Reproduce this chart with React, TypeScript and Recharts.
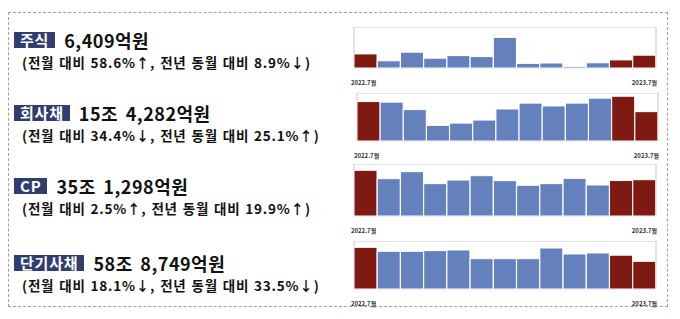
import { BarChart, Bar, XAxis, YAxis, Cell, ReferenceArea } from 'recharts'

const months = [
  '2022.7', '2022.8', '2022.9', '2022.10', '2022.11', '2022.12', '2023.1',
  '2023.2', '2023.3', '2023.4', '2023.5', '2023.6', '2023.7',
]

// 주식 (억원)
const stockValues = [7035, 3600, 7900, 4900, 6200, 5700, 15300, 2300, 2500, 800, 2600, 4041, 6409]
// 회사채 (조원)
const bondValues = [20.7, 20.4, 16.5, 8.2, 9.4, 11.0, 16.8, 19.9, 18.4, 19.9, 22.5, 23.5, 15.4]
// CP (조원)
const cpValues = [44.2, 36.1, 42.9, 31.3, 34.8, 39.0, 34.2, 29.7, 31.3, 36.4, 30.0, 34.3, 35.1]
// 단기사채 (조원)
const shortValues = [88.7, 80.2, 80.2, 81.6, 83.0, 64.5, 64.5, 64.5, 87.2, 74.5, 76.6, 71.9, 58.9]

const highlighted = [0, 11, 12]

const RED = '#7e1a12'
const BLUE = '#6581bd'
const NAVY = '#2f3e6e'
const FONT = '"Noto Sans CJK KR", "Noto Sans", sans-serif'

type MiniProps = {
  values: number[]
  max: number
  left: number
  top: number
  width: number
  height: number
}

function MiniBars({ values, max, left, top, width, height }: MiniProps) {
  const data = months.map((m, i) => ({ month: m, value: values[i] }))
  const half = width / months.length / 2
  const first = months[0]
  const last = months[months.length - 1]

  const renderTick = (props: any) => {
    const { x, y, payload } = props
    const isFirst = payload.value === first
    return (
      <text
        x={isFirst ? x - half - 3 : x + half + 1}
        y={y}
        dy={9}
        textAnchor={isFirst ? 'start' : 'end'}
        fontSize={6}
        fontWeight={700}
        fill="#333"
        fontFamily={FONT}
      >
        {payload.value}월
      </text>
    )
  }

  return (
    <div style={{ position: 'absolute', left: left - 4, top }}>
      <BarChart
        width={width + 8}
        height={height + 20}
        data={data}
        barCategoryGap={0}
        margin={{ top: 0, right: 4, left: 4, bottom: 0 }}
      >
        <XAxis
          dataKey="month"
          ticks={[first, last]}
          interval={0}
          axisLine={false}
          tickLine={false}
          height={20}
          tick={renderTick}
        />
        <YAxis hide domain={[0, max]} />
        <ReferenceArea x1={first} x2={last} y1={0} y2={max} fill="none" stroke="#c8c8c8" strokeWidth={1} />
        <Bar dataKey="value" isAnimationActive={false} stroke="#ffffff" strokeWidth={1}>
          {data.map((_, i) => (
            <Cell key={i} fill={highlighted.includes(i) ? RED : BLUE} />
          ))}
        </Bar>
      </BarChart>
    </div>
  )
}

type LabelProps = {
  top: number
  tag: string
  amount: string
  change: string
}

function Label({ top, tag, amount, change }: LabelProps) {
  return (
    <div style={{ position: 'absolute', left: 14, top, fontFamily: FONT, color: '#111' }}>
      <div style={{ display: 'flex', alignItems: 'center', height: 16 }}>
        <span
          style={{
            display: 'inline-block',
            background: NAVY,
            color: '#fff',
            fontSize: 15,
            fontWeight: 700,
            lineHeight: '16px',
            height: 16,
            padding: '0 6px',
            letterSpacing: 0.8,
          }}
        >
          {tag}
        </span>
        <span style={{ fontSize: 18, fontWeight: 700, marginLeft: 9, lineHeight: '16px', letterSpacing: 0.5, wordSpacing: 3 }}>
          {amount}
        </span>
      </div>
      <div
        style={{
          fontSize: 13.5,
          fontWeight: 700,
          marginTop: 4,
          marginLeft: 8,
          whiteSpace: 'nowrap',
          letterSpacing: 0.8,
          wordSpacing: 1,
        }}
      >
        {change}
      </div>
    </div>
  )
}

export default function App() {
  return (
    <div style={{ position: 'absolute', left: 0, top: 0, width: 680, height: 319, background: '#fff' }}>
      <div
        style={{
          position: 'absolute',
          left: 8,
          top: 12,
          width: 660,
          height: 295,
          border: '1px dashed #a0a0a0',
          boxSizing: 'border-box',
        }}
      />
      <Label top={32} tag="주식" amount="6,409억원" change="(전월 대비 58.6%↑, 전년 동월 대비 8.9%↓)" />
      <Label top={105} tag="회사채" amount="15조 4,282억원" change="(전월 대비 34.4%↓, 전년 동월 대비 25.1%↑)" />
      <Label top={178} tag="CP" amount="35조 1,298억원" change="(전월 대비 2.5%↑, 전년 동월 대비 19.9%↑)" />
      <Label top={255} tag="단기사채" amount="58조 8,749억원" change="(전월 대비 18.1%↓, 전년 동월 대비 33.5%↓)" />

      <MiniBars values={stockValues} max={20500} left={354} top={27} width={302} height={41} />
      <MiniBars values={bondValues} max={25.2} left={357} top={93} width={301} height={48} />
      <MiniBars values={cpValues} max={50.3} left={354} top={164} width={302} height={52} />
      <MiniBars values={shortValues} max={102.1} left={354} top={241} width={302} height={48} />
    </div>
  )
}
